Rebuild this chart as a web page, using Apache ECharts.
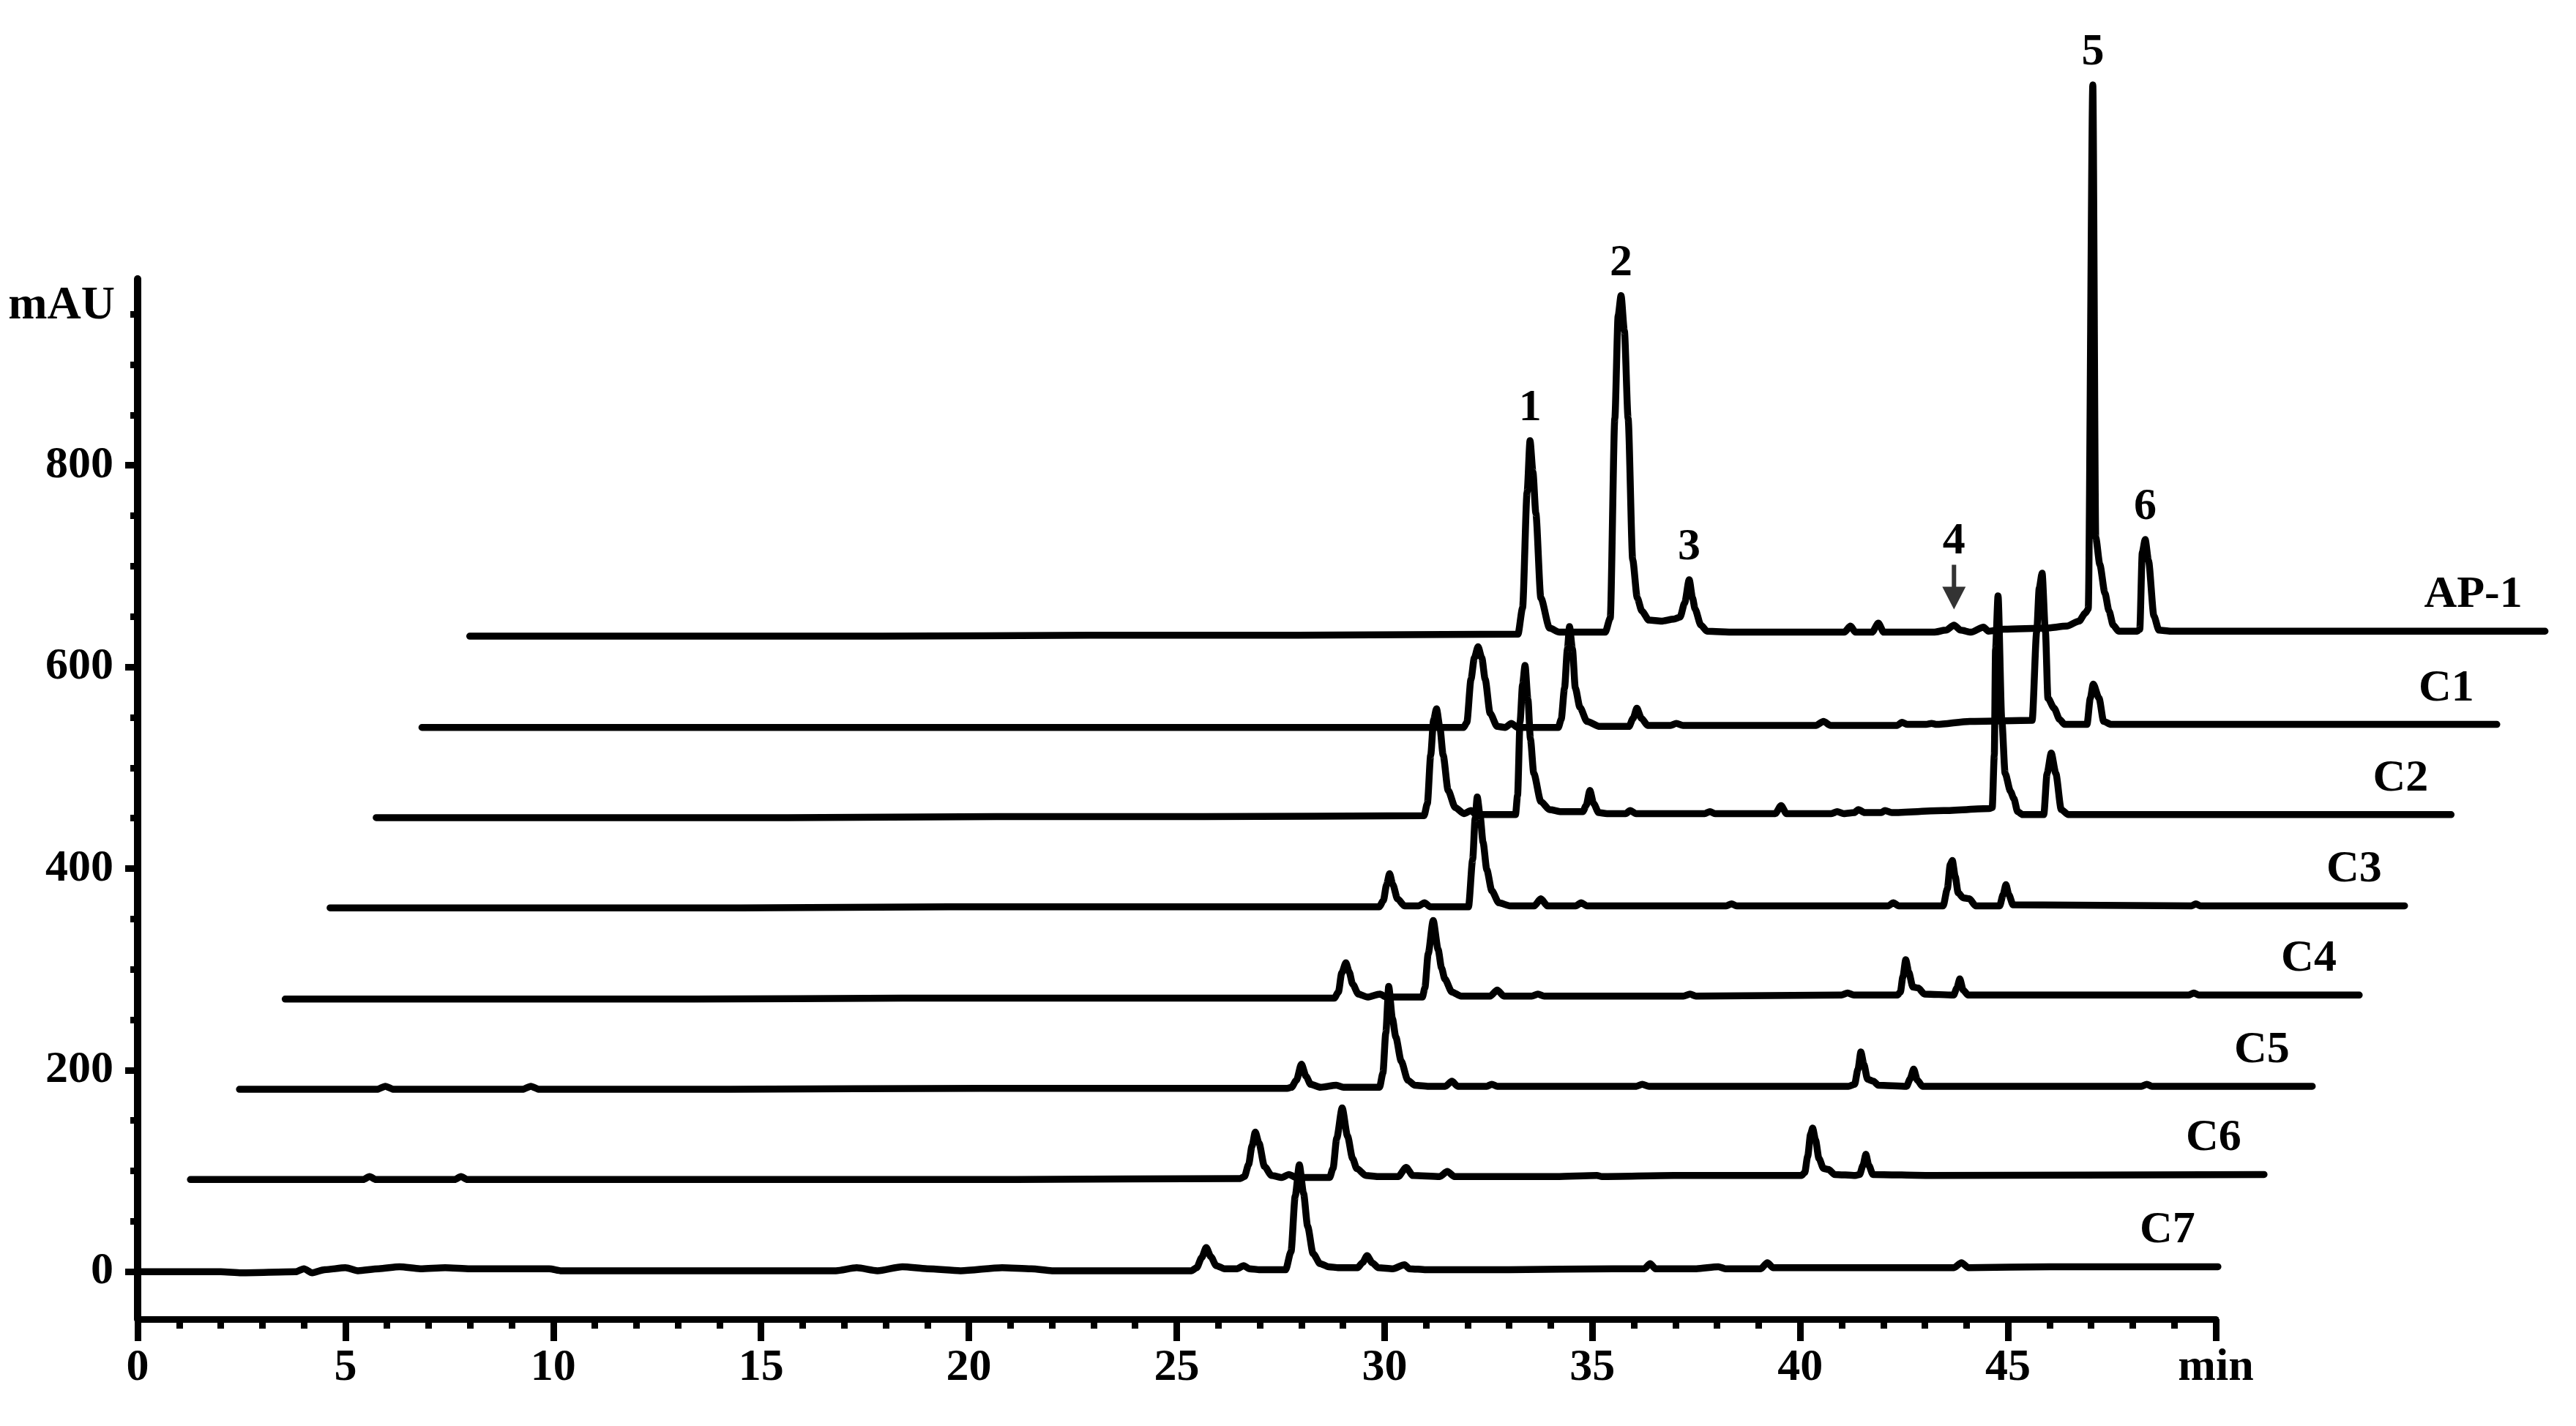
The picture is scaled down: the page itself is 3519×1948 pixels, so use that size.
<!DOCTYPE html>
<html>
<head>
<meta charset="utf-8">
<script src="https://cdn.jsdelivr.net/npm/echarts@6/dist/echarts.min.js"></script>
<style>
  html, body { margin: 0; padding: 0; background: #ffffff; }
  #chart { width: 3519px; height: 1948px; }
</style>
</head>
<body>
<div id="chart"></div>
<script>
// ---------------- DATA (raw chromatograms: [time (min), absorbance (mAU)]) ----------------
const TRACE_NAMES = ['C7', 'C6', 'C5', 'C4', 'C3', 'C2', 'C1', 'AP-1'];

const C7 = [
  [0,0],[2.0,0],[2.5,-1],[3.8,0],[4.0,3],[4.2,-1],[4.5,2],[5.0,4],[5.3,1],[5.8,3],[6.3,5],[6.8,3],[7.4,4],[8.0,3],[8.8,3],[9.9,3],[10.2,1],[13.0,1],[16.8,1],[17.3,4],[17.8,1],[18.4,5],[19.0,3],[19.8,1],[20.8,4],[21.5,3],[22.0,1],[25.35,1],
  [25.48,4],[25.6,14],[25.71,24],[25.82,15],[25.95,6],[26.15,3],[26.45,3],[26.61,6],[26.75,3],[27.0,2],
  [27.62,2],[27.75,20],[27.85,75],[27.95,106],[28.05,78],[28.15,45],[28.28,18],[28.45,8],[28.65,5],[28.9,4],
  [29.35,4],[29.47,9],[29.58,16],[29.7,9],[29.85,4],[30.2,3],[30.48,7],[30.6,3],[31.0,2],[33.0,2],[35.5,3],
  [36.25,3],[36.39,8],[36.52,3],[37.5,3],[38.03,5],[38.2,3],[39.05,3],[39.21,9],[39.35,4],[41.0,4],[43.7,4],[43.88,9],[44.05,4],[46.0,5],[50.05,5]
];

const C6 = [
  [0.14,1],[3.0,1],[4.3,1],[4.45,4],[4.6,1],[6.5,1],[6.65,4],[6.8,1],[10,1],[15,1],[20,1],[25.4,2],
  [25.5,4],[25.6,16],[25.68,34],[25.76,48],[25.85,37],[25.98,14],[26.15,5],[26.4,3],[26.57,6],[26.75,3],
  [27.55,3],[27.63,12],[27.72,42],[27.85,72],[27.98,44],[28.1,22],[28.2,12],[28.42,5],[28.7,4],
  [29.2,4],[29.39,13],[29.55,5],[30.2,4],[30.38,9],[30.55,4],[33.0,4],[33.98,5],[34.1,4],[35.83,5],[36.0,5],[38.9,5],
  [38.98,8],[39.05,24],[39.12,46],[39.17,52],[39.24,40],[39.32,22],[39.43,12],[39.55,11],[39.7,6],[40.2,5],
  [40.3,6],[40.38,15],[40.45,26],[40.52,15],[40.62,6],[42,5],[50.03,6]
];

const C5 = [
  [0.19,0],[3.5,0],[3.7,3],[3.9,0],[7.0,0],[7.2,3],[7.4,0],[12,0],[18,1],[25.4,1],
  [25.5,2],[25.62,9],[25.74,25],[25.85,13],[25.96,5],[26.2,2],[26.58,4],[26.75,2],
  [27.62,2],[27.7,16],[27.77,56],[27.84,102],[27.93,70],[28.01,52],[28.14,28],[28.3,9],[28.47,4],[28.8,3],
  [29.2,3],[29.36,8],[29.5,3],[30.2,3],[30.32,5],[30.45,3],[33.8,3],[33.94,5],[34.1,3],[38.9,3],
  [39.05,5],[39.13,20],[39.2,37],[39.27,25],[39.36,10],[39.5,8],[39.62,4],[40.3,3],[40.38,10],[40.47,20],[40.56,9],[40.68,3],
  [45.95,3],[46.08,5],[46.2,3],[50.06,3]
];

const C4 = [
  [0.16,-1],[5,-1],[10,-1],[15,0],[20,0],[25.4,0],
  [25.5,6],[25.58,25],[25.68,35],[25.76,26],[25.84,14],[25.98,4],[26.2,1],[26.5,4],[26.65,1],
  [27.52,1],[27.58,10],[27.66,44],[27.78,77],[27.9,48],[27.98,30],[28.06,19],[28.23,6],[28.45,2],
  [29.15,2],[29.32,8],[29.48,2],[30.15,2],[30.3,4],[30.45,2],[33.8,2],[33.96,4],[34.1,2],[37.6,3],[37.75,5],[37.9,3],[38.95,3],
  [39.02,6],[39.08,21],[39.15,38],[39.22,26],[39.32,11],[39.45,10],[39.6,4],[40.3,3],[40.38,10],[40.45,19],[40.53,8],[40.65,3],
  [45.95,3],[46.08,5],[46.2,3],[50.06,3]
];

const C3 = [
  [0.11,-1],[4,-1],[10,-1],[15,0],[20,0],[25.35,0],
  [25.45,6],[25.53,22],[25.6,33],[25.68,22],[25.79,8],[25.96,1],[26.3,1],[26.44,4],[26.58,0],
  [27.5,0],[27.6,47],[27.66,88],[27.71,109],[27.78,90],[27.85,64],[27.94,37],[28.06,16],[28.23,4],[28.5,1],
  [29.08,1],[29.24,8],[29.4,1],[30.08,1],[30.21,4],[30.35,1],[33.7,1],[33.83,3],[33.95,1],[37.6,1],[37.72,4],[37.85,1],
  [38.92,1],[39.02,18],[39.09,42],[39.14,46],[39.21,30],[39.28,14],[39.4,9],[39.55,8],[39.7,1],
  [40.28,1],[40.36,12],[40.43,22],[40.5,12],[40.6,2],[44.9,1],[45.0,3],[45.1,1],[50.02,1]
];

const C2 = [
  [0.09,-2],[5,-2],[10,-2],[15,-1],[20,-1],[25.3,0],
  [25.38,12],[25.46,60],[25.53,95],[25.6,106],[25.68,88],[25.76,60],[25.88,25],[26.05,8],[26.26,2],[26.43,5],[26.55,1],
  [27.5,1],[27.55,20],[27.61,93],[27.67,130],[27.73,149],[27.8,115],[27.86,76],[27.94,42],[28.11,14],[28.32,6],[28.6,4],[29.12,4],
  [29.2,10],[29.29,25],[29.38,12],[29.5,3],[29.7,2],[30.15,2],[30.26,5],[30.4,2],[32.05,2],[32.18,4],[32.3,2],
  [33.75,2],[33.89,10],[34.02,2],[35.1,2],[35.24,4],[35.4,2],[35.65,3],[35.75,6],[35.9,3],[36.3,3],[36.39,5],[36.55,3],
  [37.8,5],[38.9,7],[38.97,8],[39.02,60],[39.05,165],[39.11,218],[39.2,95],[39.28,42],[39.41,24],[39.49,17],[39.58,4],[39.7,1],
  [40.21,1],[40.29,42],[40.39,62],[40.5,42],[40.63,6],[40.8,1],[50.01,1]
];

const C1 = [
  [0.06,-3],[5,-3],[10,-3],[15,-3],[20,-3],[25.12,-3],
  [25.2,2],[25.3,45],[25.38,66],[25.47,77],[25.56,66],[25.64,45],[25.76,11],[25.93,-2],[26.12,-3],[26.27,1],[26.42,-3],
  [27.4,-3],[27.47,5],[27.55,36],[27.62,75],[27.67,97],[27.74,75],[27.81,36],[27.92,17],[28.09,3],[28.4,-2],
  [29.1,-2],[29.2,6],[29.29,16],[29.4,6],[29.55,-1],[30.1,-1],[30.24,1],[30.4,-1],
  [33.6,-1],[33.78,3],[33.95,-1],[35.55,-1],[35.67,2],[35.8,0],[36.25,0],[36.38,1],[36.5,0],[37.3,3],[38.8,4],
  [38.91,92],[38.97,135],[39.04,150],[39.12,92],[39.18,26],[39.33,16],[39.46,5],[39.58,0],
  [40.12,0],[40.2,26],[40.27,40],[40.41,26],[40.52,3],[40.7,0],[49.98,0]
];

const AP1 = [
  [0.08,-3],[5,-3],[10,-3],[15,-2],[20,-2],[25.3,-1],
  [25.41,25],[25.52,140],[25.59,191],[25.66,160],[25.73,119],[25.85,35],[26.06,5],[26.3,1],[27.4,1],
  [27.52,15],[27.63,213],[27.71,315],[27.78,335],[27.86,300],[27.95,213],[28.06,73],[28.17,35],[28.28,22],[28.45,13],[28.75,12],[29.05,14],
  [29.2,16],[29.31,30],[29.42,53],[29.5,35],[29.56,24],[29.7,8],[29.85,2],[30.5,1],
  [33.15,1],[33.3,7],[33.42,1],[33.82,1],[33.97,10],[34.1,1],[35.3,1],[35.6,3],[35.79,8],[35.95,3],[36.2,1],[36.5,6],[36.62,2],
  [37.0,4],[38.0,5],[38.5,7],[38.8,12],[38.95,20],[39.02,24],[39.13,544],[39.2,95],[39.3,68],[39.42,40],[39.52,22],[39.62,8],[39.75,2],
  [40.2,2],[40.26,4],[40.32,80],[40.39,93],[40.47,72],[40.6,17],[40.72,3],[41.0,2],[50.01,2]
];

// numbered peaks of AP-1 (retention times in the AP-1 trace)
const PEAK_NAMES = ['1', '2', '3', '4', '5', '6'];
const PEAK_TIMES = [25.59, 27.78, 29.42, 35.79, 39.13, 40.39];
const ARROW_PEAK = '4';

// axis ticks
const X_TICK_NAMES = { 50: 'min' };
const Y_MAJOR = [0, 200, 400, 600, 800];
const Y_MINOR = [50, 100, 150, 250, 300, 350, 450, 500, 550, 650, 700, 750, 850, 900, 950];

// waterfall offsets between successive traces
const DX = 1.13;   // min
const DY = 90.5;   // mAU

// ---------------- BUILD ----------------
const W = 3519, H = 1948;
const GRID = { left: 188, right: 492, top: 381, bottom: 146 };
const X_MIN = 0, X_MAX = 50, Y_MIN = -47, Y_MAX = 985;
const X_DATA_MAX = 58; // hidden data axis extends past the drawn axis so shifted traces are not dropped
const pxPerMin = (W - GRID.left - GRID.right) / (X_MAX - X_MIN);
const dataGridRight = W - GRID.left - (X_DATA_MAX - X_MIN) * pxPerMin;

const TRACES = [C7, C6, C5, C4, C3, C2, C1, AP1];
const FONT = "'Liberation Serif', 'Times New Roman', serif";
const shift = (d, k) => d.map(p => [p[0] + k * DX, p[1] + k * DY]);

const lineSeries = TRACES.map((d, k) => ({
  type: 'line',
  name: TRACE_NAMES[k],
  xAxisIndex: 1, yAxisIndex: 2,
  data: shift(d, k),
  symbol: 'none',
  showSymbol: false,
  clip: false,
  silent: true,
  smooth: 0.25,
  smoothMonotone: 'x',
  lineStyle: { color: '#000', width: 9.5, cap: 'round', join: 'round' },
  z: 3
}));

const kAP = TRACES.length - 1;
const apPeaks = PEAK_NAMES.map((nm, i) => {
  const p = AP1.find(q => q[0] === PEAK_TIMES[i]);
  return { name: nm, value: [p[0] + kAP * DX, p[1] + kAP * DY] };
});

const endLabels = TRACES.map((d, k) => {
  const last = d[d.length - 1];
  return { name: TRACE_NAMES[k], value: [last[0] + k * DX, last[1] + k * DY] };
});

const textStyle = { fontFamily: FONT, fontWeight: 'bold', fontSize: 62, color: '#000', textBorderWidth: 0, opacity: 1 };

const hiddenAxis = { show: false, axisLine: { show: false }, axisTick: { show: false }, axisLabel: { show: false }, splitLine: { show: false } };

const option = {
  backgroundColor: '#ffffff',
  animation: false,
  grid: [
    { left: GRID.left, right: GRID.right, top: GRID.top, bottom: GRID.bottom, containLabel: false },
    { left: GRID.left, right: dataGridRight, top: GRID.top, bottom: GRID.bottom, containLabel: false }
  ],
  xAxis: [
    {
      type: 'value', gridIndex: 0, min: X_MIN, max: X_MAX, interval: 5,
      axisLine: { show: true, onZero: false, lineStyle: { color: '#000', width: 9 } },
      axisTick: { show: true, inside: false, length: 30, lineStyle: { color: '#000', width: 9 } },
      minorTick: { show: true, splitNumber: 5, length: 13, lineStyle: { color: '#000', width: 9 } },
      axisLabel: Object.assign({ margin: 36, formatter: v => (X_TICK_NAMES[v] !== undefined ? X_TICK_NAMES[v] : String(v)) }, textStyle),
      splitLine: { show: false }, minorSplitLine: { show: false }
    },
    Object.assign({ type: 'value', gridIndex: 1, min: X_MIN, max: X_DATA_MAX }, hiddenAxis)
  ],
  yAxis: [
    {
      type: 'value', gridIndex: 0, min: Y_MIN, max: Y_MAX, position: 'left',
      name: 'mAU', nameLocation: 'end', nameGap: -37,
      nameTextStyle: { fontFamily: FONT, fontWeight: 'bold', fontSize: 64, color: '#000', align: 'right', verticalAlign: 'middle', padding: [0, 31, 0, 0] },
      axisLine: { show: true, onZero: false, lineStyle: { color: '#000', width: 10 } },
      axisTick: { show: true, customValues: Y_MAJOR, length: 17, lineStyle: { color: '#000', width: 9 } },
      axisLabel: Object.assign({ customValues: Y_MAJOR, margin: 33 }, textStyle),
      splitLine: { show: false }
    },
    {
      type: 'value', gridIndex: 0, min: Y_MIN, max: Y_MAX, position: 'left',
      axisLine: { show: false },
      axisTick: { show: true, customValues: Y_MINOR, length: 10, lineStyle: { color: '#000', width: 9 } },
      axisLabel: { show: false },
      splitLine: { show: false }
    },
    Object.assign({ type: 'value', gridIndex: 1, min: Y_MIN, max: Y_MAX }, hiddenAxis)
  ],
  series: lineSeries.concat([
    {
      type: 'scatter', name: 'traceLabels', xAxisIndex: 1, yAxisIndex: 2, data: endLabels, clip: false, silent: true,
      symbol: 'circle', symbolSize: 0, itemStyle: { color: '#000' },
      label: Object.assign({ show: true, formatter: '{b}', position: [-31, -18], align: 'right', verticalAlign: 'bottom' }, textStyle),
      z: 5
    },
    {
      type: 'scatter', name: 'peakLabels', xAxisIndex: 1, yAxisIndex: 2, data: apPeaks.filter(p => p.name !== ARROW_PEAK), clip: false, silent: true,
      symbol: 'circle', symbolSize: 0, itemStyle: { color: '#000' },
      label: Object.assign({ show: true, formatter: '{b}', position: 'top', distance: 13 }, textStyle),
      z: 5
    },
    {
      type: 'scatter', name: 'peakArrow', xAxisIndex: 1, yAxisIndex: 2, data: apPeaks.filter(p => p.name === ARROW_PEAK), clip: false, silent: true,
      symbol: 'path://M13,0 L19,0 L19,30 L32,30 L16,61 L0,30 L13,30 Z',
      symbolSize: [32, 61], symbolOffset: [0, -52], symbolKeepAspect: false,
      itemStyle: { color: '#000' },
      label: Object.assign({ show: true, formatter: '{b}', position: 'top', distance: 0 }, textStyle),
      z: 5
    }
  ])
};

const chart = echarts.init(document.getElementById('chart'), null, { renderer: 'canvas', width: W, height: H });
chart.setOption(option);
</script>
</body>
</html>
